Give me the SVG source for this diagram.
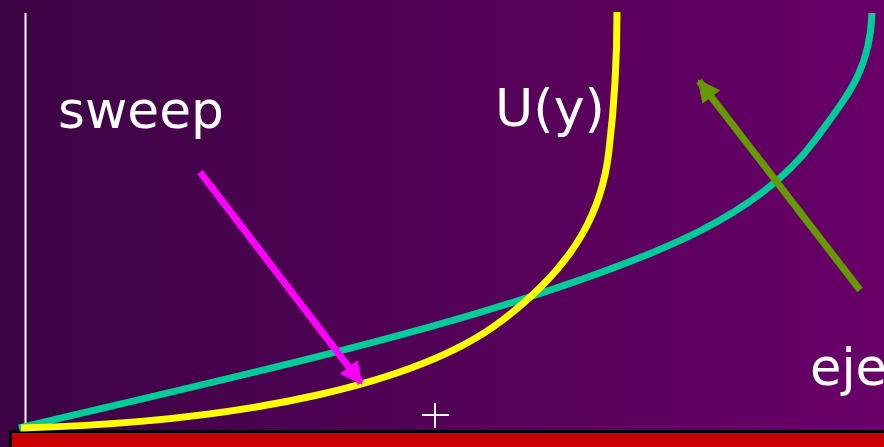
<svg xmlns="http://www.w3.org/2000/svg" width="884" height="447" viewBox="0 0 884 447">
<defs>
<linearGradient id="bg" x1="0" y1="0" x2="1" y2="0">
<stop offset="0" stop-color="#3c0444"/>
<stop offset="1" stop-color="#680068"/>
</linearGradient>
<marker id="amag" viewBox="0 0 10 10" refX="9" refY="5" markerWidth="3.6" markerHeight="3.2" orient="auto" markerUnits="strokeWidth">
<path d="M0,0 L10,5 L0,10 z" fill="#ff00ff"/>
</marker>
<marker id="agrn" viewBox="0 0 10 10" refX="9" refY="5" markerWidth="3.6" markerHeight="3.2" orient="auto" markerUnits="strokeWidth">
<path d="M0,0 L10,5 L0,10 z" fill="#669900"/>
</marker>
</defs>
<style>
text{font-family:"DejaVu Sans",Verdana,sans-serif;font-size:51px;fill:#ffffff}
.curve{fill:none;stroke-width:7;stroke-linecap:butt}
</style>
<rect width="884" height="447" fill="url(#bg)"/>
<line x1="25.5" y1="13" x2="25.5" y2="428" stroke="#ffffff" stroke-width="2"/>
<g id="wall">
<rect x="10.5" y="431.5" width="876" height="18" fill="#cc0000" stroke="#000000" stroke-width="3"/>
</g>
<g id="plus">
<line x1="422" y1="415" x2="449" y2="415" stroke="#ffffff" stroke-width="2"/>
<line x1="435" y1="403" x2="435" y2="428" stroke="#ffffff" stroke-width="2"/>
</g>
<g id="curves">
<path class="curve" stroke="#00cc99" d="M19,428 C200,385 380,345 520,300 C660,255 760,215 815,140 C848,95 870,70 872,13"/>
<path class="curve" stroke="#ffff00" d="M21,428 C250,422 420,382 500,322 C580,262 603,205 609,150 C615,100 617,50 617,12"/>
</g>
<g id="connectors">
<line x1="200" y1="172" x2="361" y2="383" stroke="#ff00ff" stroke-width="7" marker-end="url(#amag)"/>
<line x1="860" y1="290" x2="699" y2="81" stroke="#669900" stroke-width="7" marker-end="url(#agrn)"/>
</g>
<g id="labels">
<text x="58" y="128" textLength="166" lengthAdjust="spacingAndGlyphs">sweep</text>
<text x="495" y="126" textLength="110" lengthAdjust="spacingAndGlyphs">U(y)</text>
<text x="810" y="385">eje</text>
</g>
</svg>
